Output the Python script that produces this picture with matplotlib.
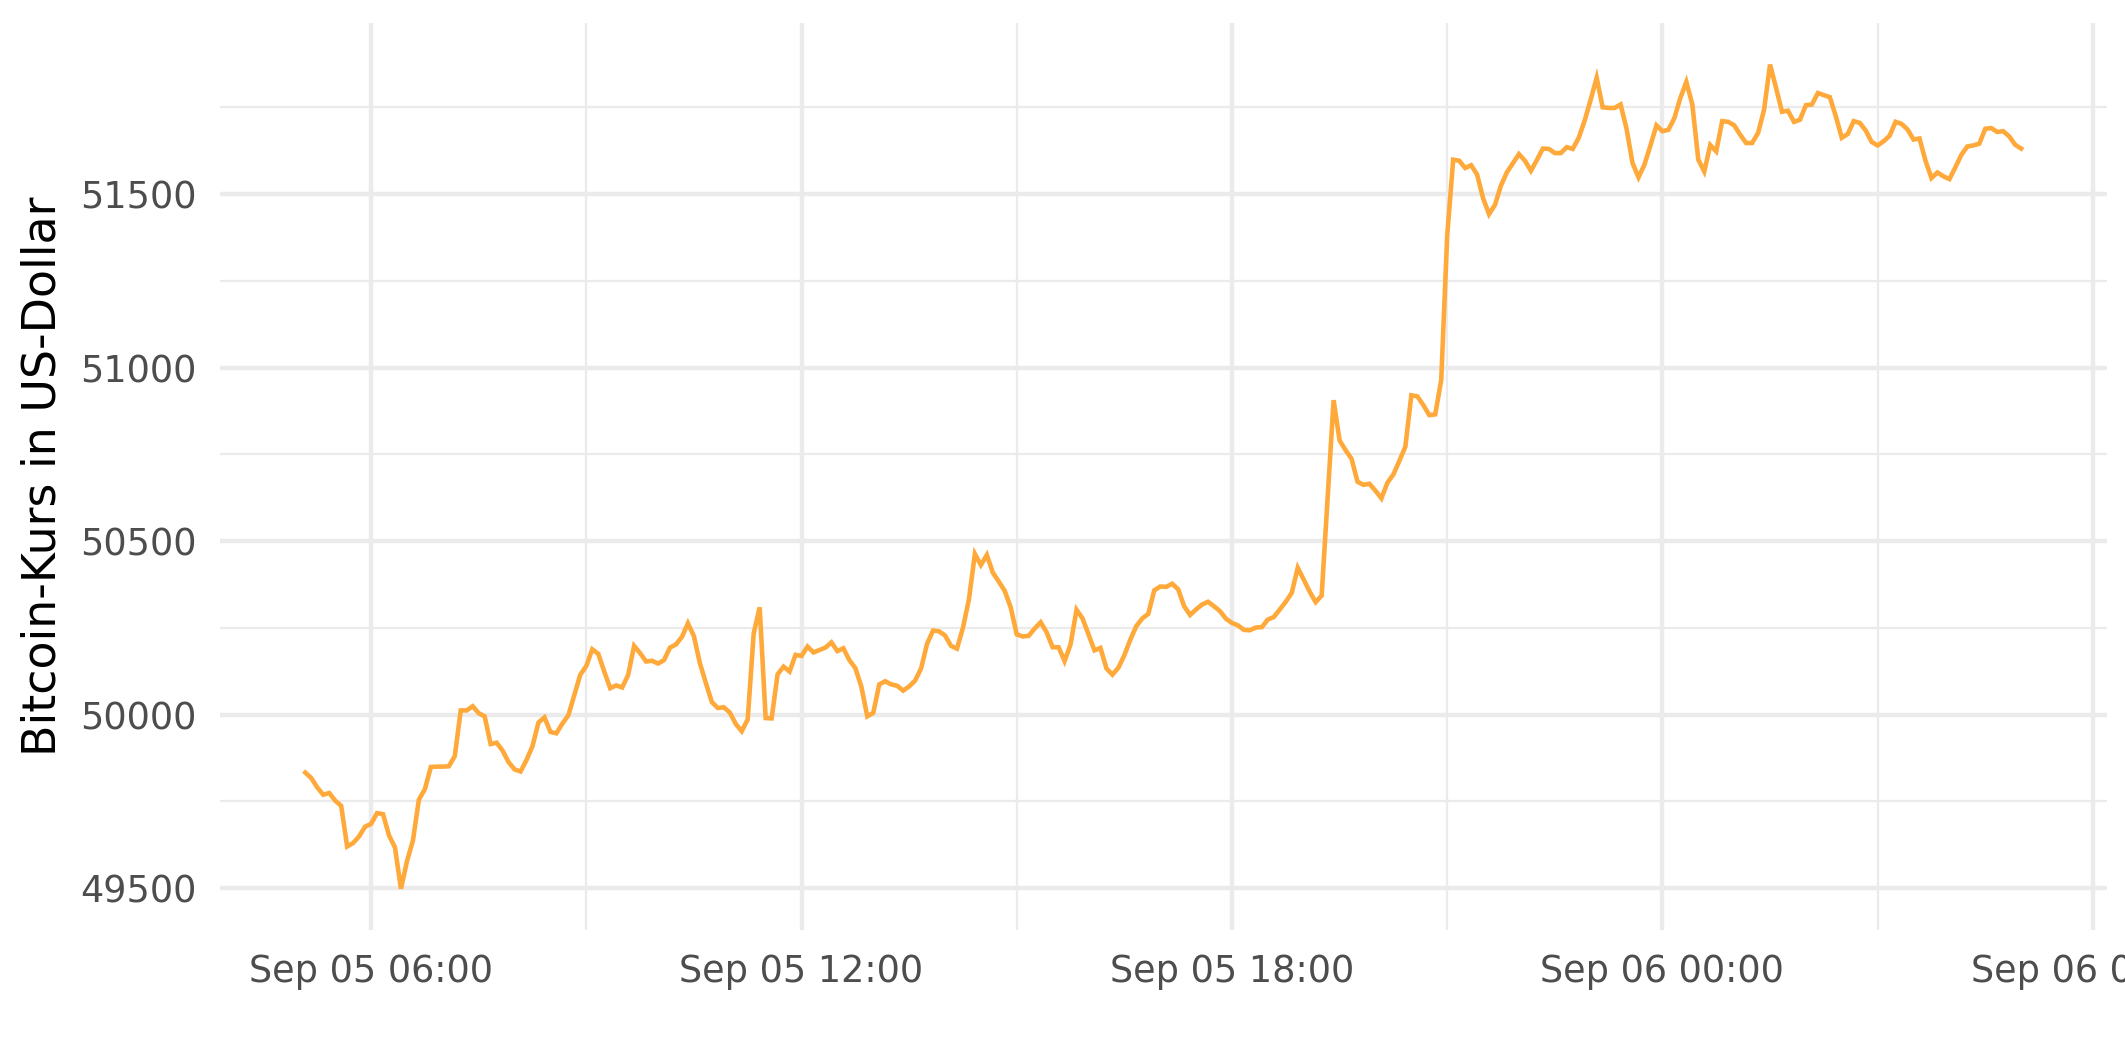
import numpy as np
import pandas as pd
import matplotlib
matplotlib.use("Agg")
import matplotlib.pyplot as plt
import matplotlib.dates as mdates

# Bitcoin price, 5 minute steps starting Sep 05 05:05
startTime = "2021-09-05 05:05"
stepFreq = "5min"
prices = [
	# 05:05 - 09:00
	49833, 49817, 49790, 49769, 49774, 49752, 49737, 49620, 49630, 49649, 49677, 49685,
	49716, 49713, 49652, 49617, 49498, 49577, 49637, 49755, 49785, 49849, 49850, 49850,
	49851, 49880, 50012, 50012, 50024, 50004, 49995, 49915, 49919, 49896, 49863, 49842,
	49836, 49869, 49909, 49977, 49992, 49950, 49946, 49974, 49998, 50056, 50115, 50140,
	# 09:05 - 13:00
	50188, 50175, 50124, 50076, 50084, 50078, 50114, 50198, 50177, 50153, 50155, 50147,
	50157, 50193, 50202, 50224, 50263, 50226, 50148, 50091, 50036, 50019, 50021, 50006,
	49973, 49952, 49986, 50234, 50309, 49990, 49989, 50116, 50138, 50124, 50172, 50169,
	50196, 50179, 50186, 50193, 50208, 50183, 50191, 50157, 50134, 50081, 49995, 50005,
	# 13:05 - 17:00
	50087, 50096, 50087, 50083, 50069, 50081, 50098, 50133, 50204, 50242, 50240, 50228,
	50198, 50190, 50250, 50332, 50463, 50431, 50460, 50409, 50383, 50356, 50308, 50231,
	50225, 50227, 50248, 50266, 50237, 50194, 50194, 50154, 50202, 50302, 50277, 50231,
	50185, 50192, 50133, 50115, 50135, 50171, 50216, 50255, 50277, 50290, 50358, 50369,
	# 17:05 - 21:00
	50368, 50377, 50361, 50312, 50287, 50303, 50317, 50325, 50312, 50298, 50276, 50264,
	50257, 50244, 50243, 50251, 50252, 50274, 50281, 50303, 50325, 50351, 50423, 50389,
	50354, 50324, 50343, 50625, 50906, 50790, 50762, 50737, 50671, 50662, 50665, 50645,
	50623, 50668, 50692, 50731, 50772, 50920, 50917, 50892, 50863, 50865, 50964, 51380,
	# 21:05 - 01:00
	51599, 51596, 51575, 51583, 51556, 51488, 51442, 51469, 51525, 51563, 51589, 51615,
	51596, 51567, 51598, 51631, 51630, 51618, 51618, 51635, 51630, 51662, 51712, 51772,
	51835, 51750, 51748, 51748, 51758, 51688, 51589, 51548, 51585, 51640, 51698, 51681,
	51685, 51719, 51777, 51823, 51758, 51599, 51565, 51641, 51623, 51710, 51708, 51698,
	# 01:05 - 05:00
	51671, 51647, 51647, 51676, 51743, 51873, 51806, 51737, 51740, 51708, 51714, 51756,
	51758, 51791, 51785, 51779, 51724, 51662, 51673, 51710, 51705, 51683, 51650, 51640,
	51652, 51668, 51708, 51702, 51686, 51657, 51660, 51596, 51546, 51562, 51551, 51543,
	51577, 51613, 51637, 51640, 51645, 51688, 51690, 51679, 51681, 51666, 51642, 51631,
]
yTicks = [49500, 50000, 50500, 51000, 51500]
yLabel = "Bitcoin-Kurs in US-Dollar"

times = pd.date_range(start=startTime, periods=len(prices), freq=stepFreq)

# ggplot theme_minimal look
gridColor = "#EBEBEB"
textColor = "#4D4D4D"
lineColor = "#FEA93A"

fig = plt.figure(figsize=(2125/300, 1062/300), dpi=300)
ax = fig.add_axes([0.1033, 0.1243, 0.9915-0.1033, 0.978-0.1243])

ax.plot(times, prices, color=lineColor, linewidth=1.1, solid_joinstyle="miter", zorder=3)

ax.margins(x=0.05, y=0.05)
ax.set_yticks(yTicks)
ax.set_yticks([v + 250 for v in yTicks[:-1]] + [yTicks[-1] + 250], minor=True)
ax.xaxis.set_major_locator(mdates.HourLocator(byhour=[0, 6, 12, 18]))
ax.xaxis.set_minor_locator(mdates.HourLocator(byhour=[3, 9, 15, 21]))
ax.xaxis.set_major_formatter(mdates.DateFormatter("%b %d %H:%M"))

for s in ax.spines.values():
	s.set_visible(False)
ax.grid(which="major", color=gridColor, linewidth=1.07, zorder=0)
ax.grid(which="minor", color=gridColor, linewidth=0.53, zorder=0)
ax.set_axisbelow(True)
ax.tick_params(which="both", length=0, pad=5.5, labelsize=8.8, labelcolor=textColor)

ax.set_ylabel(yLabel, fontsize=11, color="black", labelpad=3.4)

fig.savefig("out.png", dpi=300)
